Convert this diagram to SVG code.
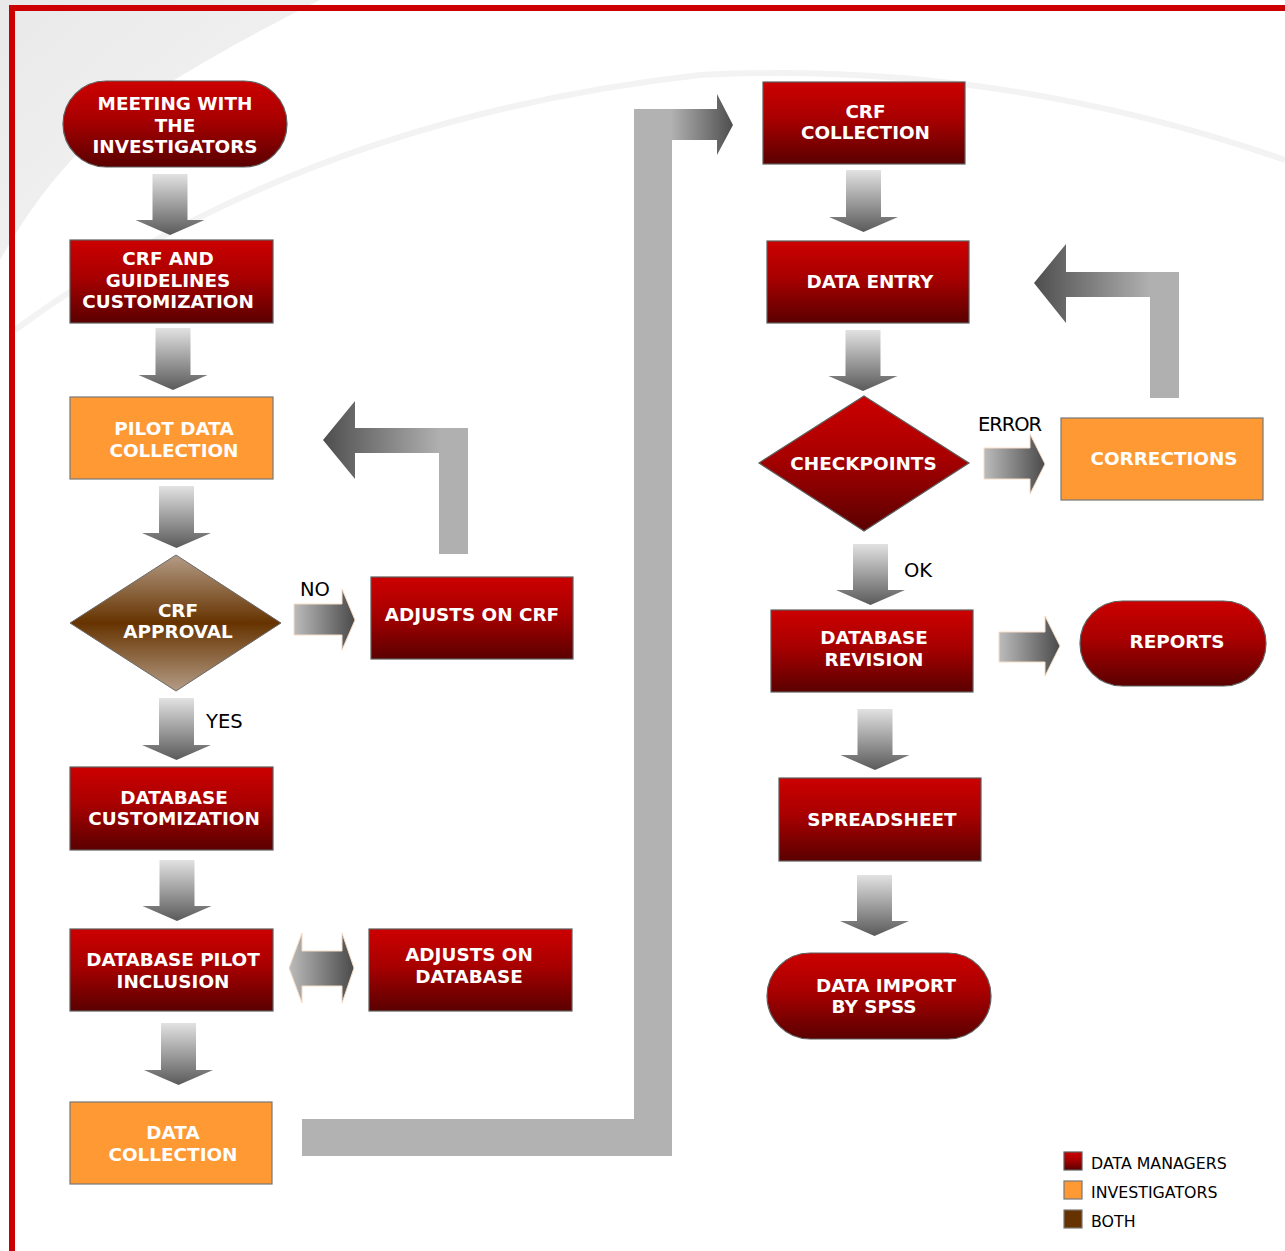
<svg xmlns="http://www.w3.org/2000/svg" width="1285" height="1251" viewBox="0 0 1285 1251">
<defs>
<linearGradient id="gRed" x1="0" y1="0" x2="0" y2="1"><stop offset="0" stop-color="#cc0000"/><stop offset="0.45" stop-color="#a80000"/><stop offset="1" stop-color="#5a0000"/></linearGradient>
<linearGradient id="gBrown" x1="0" y1="0" x2="0" y2="1"><stop offset="0" stop-color="#b49c86"/><stop offset="0.5" stop-color="#663300"/><stop offset="1" stop-color="#b49c86"/></linearGradient>
<linearGradient id="gDown" x1="0" y1="0" x2="0" y2="1"><stop offset="0" stop-color="#e2e2e2"/><stop offset="1" stop-color="#5a5a5a"/></linearGradient>
<linearGradient id="gRight" x1="0" y1="0" x2="1" y2="0"><stop offset="0" stop-color="#bcbcbc"/><stop offset="1" stop-color="#4a4a4a"/></linearGradient>
<linearGradient id="gLoop1" gradientUnits="userSpaceOnUse" x1="323" y1="0" x2="440" y2="0"><stop offset="0" stop-color="#4e4e4e"/><stop offset="1" stop-color="#b0b0b0"/></linearGradient>
<linearGradient id="gLoop2" gradientUnits="userSpaceOnUse" x1="1034" y1="0" x2="1150" y2="0"><stop offset="0" stop-color="#4e4e4e"/><stop offset="1" stop-color="#b0b0b0"/></linearGradient>
<linearGradient id="gBig" gradientUnits="userSpaceOnUse" x1="671" y1="0" x2="733" y2="0"><stop offset="0" stop-color="#b2b2b2"/><stop offset="1" stop-color="#4e4e4e"/></linearGradient>
<linearGradient id="gBg" x1="0" y1="0" x2="1" y2="1"><stop offset="0" stop-color="#e9e9e9"/><stop offset="1" stop-color="#f6f6f6"/></linearGradient>
</defs>
<style>
.red{fill:url(#gRed);stroke:#5e5e5e;stroke-width:1.2}
.org{fill:#ff9933;stroke:#777;stroke-width:1.2}
.brn{fill:url(#gBrown);stroke:#6a6a6a;stroke-width:1}
.t{font-family:"DejaVu Sans",Verdana,sans-serif;font-weight:bold;font-size:18.4px;fill:#fff;text-anchor:middle}
.lbl{font-family:"DejaVu Sans",Verdana,sans-serif;font-size:19.5px;fill:#000}
.lg{font-family:"DejaVu Sans",Verdana,sans-serif;font-size:15.8px;fill:#000}
.dn{fill:url(#gDown)}
.rt{fill:url(#gRight);stroke:#f6dcc4;stroke-width:1}
</style>
<rect width="1285" height="1251" fill="#fff"/>
<g id="background">
<path d="M0,0 H320 Q200,60 120,115 Q50,170 0,260 Z" fill="url(#gBg)"/>
<path d="M15,330 Q300,120 700,75 Q1000,60 1285,160" fill="none" stroke="#f3f3f3" stroke-width="6"/>
<rect x="9" y="5" width="1276" height="6" fill="#cc0000"/>
<rect x="9" y="5" width="6" height="1246" fill="#cc0000"/>
</g>
<g id="connectors">
<path class="dn" d="M152.5,174 H187.5 V220 H204.5 L170,235 L135.5,220 H152.5 Z"/>
<path class="dn" d="M155.5,328 H190.5 V375 H207.5 L173,390 L138.5,375 H155.5 Z"/>
<path class="dn" d="M159,486 H194 V533 H211 L176.5,548 L142,533 H159 Z"/>
<path class="dn" d="M159,698 H194 V745 H211 L176.5,760 L142,745 H159 Z"/>
<path class="dn" d="M159.5,860 H194.5 V906 H211.5 L177,921 L142.5,906 H159.5 Z"/>
<path class="dn" d="M161,1023 H196 V1070 H213 L178.5,1085 L144,1070 H161 Z"/>
<path class="dn" d="M846,170 H881 V217 H898 L863.5,232 L829,217 H846 Z"/>
<path class="dn" d="M845.5,330 H880.5 V376 H897.5 L863,391 L828.5,376 H845.5 Z"/>
<path class="dn" d="M853,544 H888 V590 H905 L870.5,605 L836,590 H853 Z"/>
<path class="dn" d="M857.5,709 H892.5 V755 H909.5 L875,770 L840.5,755 H857.5 Z"/>
<path class="dn" d="M857,875 H892 V921 H909 L874.5,936 L840,921 H857 Z"/>
<path class="rt" d="M294,604 H342 V589 L355,620 L342,650 V635 H294 Z"/>
<path class="rt" d="M984,448 H1030 V434 L1045,464 L1030,494 V479 H984 Z"/>
<path class="rt" d="M999,632 H1045 V616 L1060,646 L1045,676 V662 H999 Z"/>
<path class="rt" d="M289,968 L302,933 V951 H342 V933 L354,968 L342,1003 V986 H302 V1003 Z"/>
<path d="M468,554 H439 V453 H355 V479 L323,440 L355,401 V428 H468 Z" fill="url(#gLoop1)"/>
<path d="M1179,398 H1150 V297 H1066 V323 L1034,283 L1066,244 V272 H1179 Z" fill="url(#gLoop2)"/>
<path d="M302,1119 H634 V109 H672 V1156 H302 Z" fill="#b2b2b2"/>
<path d="M671,109 H717 V94 L733,125 L717,155 V140 H671 Z" fill="url(#gBig)"/>
<text class="lbl" x="300" y="596">NO</text>
<text class="lbl" x="206" y="728">YES</text>
<text class="lbl" x="904" y="577">OK</text>
<text class="lbl" x="978" y="431" textLength="64">ERROR</text>
</g>
<g id="n-meeting"><rect class="red" x="63" y="81" width="224" height="86" rx="43"/><text class="t" x="175" y="110">MEETING WITH</text><text class="t" x="175" y="132">THE</text><text class="t" x="175" y="153">INVESTIGATORS</text></g>
<g id="n-crfguide"><rect class="red" x="70" y="240" width="203" height="83"/><text class="t" x="168" y="265">CRF AND</text><text class="t" x="168" y="286.5">GUIDELINES</text><text class="t" x="168" y="308">CUSTOMIZATION</text></g>
<g id="n-pilot"><rect class="org" x="70" y="397" width="203" height="82"/><text class="t" x="174" y="435">PILOT DATA</text><text class="t" x="174" y="456.7">COLLECTION</text></g>
<g id="n-approval"><polygon class="brn" points="176,555 281,623 176,691 70,623"/><text class="t" x="178" y="616.7">CRF</text><text class="t" x="178" y="637.7">APPROVAL</text></g>
<g id="n-adjcrf"><rect class="red" x="371" y="577" width="202" height="82"/><text class="t" x="472" y="621">ADJUSTS ON CRF</text></g>
<g id="n-dbcust"><rect class="red" x="70" y="767" width="203" height="83"/><text class="t" x="174" y="803.5">DATABASE</text><text class="t" x="174" y="825">CUSTOMIZATION</text></g>
<g id="n-dbpilot"><rect class="red" x="70" y="929" width="203" height="82"/><text class="t" x="173" y="966">DATABASE PILOT</text><text class="t" x="173" y="987.5">INCLUSION</text></g>
<g id="n-adjdb"><rect class="red" x="369" y="929" width="203" height="82"/><text class="t" x="469" y="961">ADJUSTS ON</text><text class="t" x="469" y="982.7">DATABASE</text></g>
<g id="n-datacoll"><rect class="org" x="70" y="1102" width="202" height="82"/><text class="t" x="173" y="1139">DATA</text><text class="t" x="173" y="1161">COLLECTION</text></g>
<g id="n-crfcoll"><rect class="red" x="763" y="82" width="202" height="82"/><text class="t" x="865.5" y="117.7">CRF</text><text class="t" x="865.5" y="139">COLLECTION</text></g>
<g id="n-entry"><rect class="red" x="767" y="241" width="202" height="82"/><text class="t" x="870" y="288">DATA ENTRY</text></g>
<g id="n-check"><polygon class="red" points="864,396 969,463 864,531 759,463"/><text class="t" x="863.5" y="470">CHECKPOINTS</text></g>
<g id="n-corr"><rect class="org" x="1061" y="418" width="202" height="82"/><text class="t" x="1164" y="465">CORRECTIONS</text></g>
<g id="n-dbrev"><rect class="red" x="771" y="610" width="202" height="82"/><text class="t" x="874" y="644">DATABASE</text><text class="t" x="874" y="666">REVISION</text></g>
<g id="n-reports"><rect class="red" x="1080" y="601" width="186" height="85" rx="42.5"/><text class="t" x="1177" y="648.3">REPORTS</text></g>
<g id="n-spread"><rect class="red" x="779" y="778" width="202" height="83"/><text class="t" x="882" y="826">SPREADSHEET</text></g>
<g id="n-import"><rect class="red" x="767" y="953" width="224" height="86" rx="43"/><text class="t" x="886" y="991.7">DATA IMPORT</text><text class="t" x="874" y="1013.3">BY SPSS</text></g>
<g id="legend">
<rect class="red" x="1064" y="1152" width="18" height="18"/><text class="lg" x="1091" y="1169">DATA MANAGERS</text>
<rect class="org" x="1064" y="1181" width="18" height="18"/><text class="lg" x="1091" y="1198">INVESTIGATORS</text>
<rect x="1064" y="1210" width="18" height="18" fill="#663300" stroke="#777" stroke-width="1.2"/><text class="lg" x="1091" y="1227">BOTH</text>
</g>
</svg>
